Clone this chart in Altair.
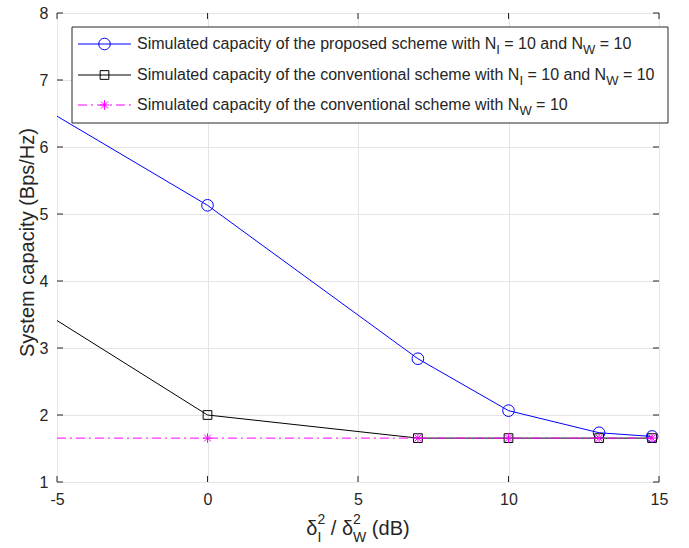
import altair as alt
import pandas as pd

# ---------------- data ----------------
x_db = [-5, 0, 6.99, 10, 13.01, 14.77]
proposed = [6.46, 5.13, 2.84, 2.065, 1.735, 1.68]
conventional = [3.41, 2.0, 1.655, 1.655, 1.655, 1.655]
conventional_nw = [1.655, 1.655, 1.655, 1.655, 1.655, 1.655]

x_ticks = [-5, 0, 5, 10, 15]
y_ticks = [1, 2, 3, 4, 5, 6, 7, 8]

series_names = [
    "proposed",
    "conventional",
    "conventional_nw",
]

# ---------------- layout / style ----------------
W, H = 602, 469
FONT = "Liberation Sans"
TXT = "#262626"
BLUE, BLACK, MAG = "#0000FF", "#000000", "#FF00FF"
STAR = "M-1,0L1,0M0,-1L0,1M-0.72,-0.72L0.72,0.72M-0.72,0.72L0.72,-0.72"

ARIAL = {
    'a': 556, 'b': 556, 'c': 500, 'd': 556, 'e': 556, 'f': 278, 'g': 556, 'h': 556,
    'i': 222, 'j': 222, 'k': 500, 'l': 222, 'm': 833, 'n': 556, 'o': 556, 'p': 556,
    'q': 556, 'r': 333, 's': 500, 't': 278, 'u': 556, 'v': 500, 'w': 722, 'x': 500,
    'y': 500, 'z': 500, 'S': 667, 'N': 722, 'I': 278, 'W': 944, 'B': 667, 'H': 722,
    ' ': 278, '=': 584, '(': 333, ')': 333, '/': 278, 'δ': 556,
}


def tw(s, fs):
    return sum(ARIAL.get(c, 556) for c in s) * fs / 1000.0


one = pd.DataFrame({"k": [0]})


def txt(s, x, y, fs, color=TXT, align="left", angle=0):
    if align == "left":
        lead = len(s) - len(s.lstrip(" "))
        x = x + tw(" " * lead, fs)
        s = s.strip(" ")
    kw = dict(text=s, font=FONT, fontSize=fs, color=color, align=align, baseline="middle")
    if angle:
        kw["angle"] = angle
    return alt.Chart(one).mark_text(**kw).encode(x=alt.value(x), y=alt.value(y))


df = pd.DataFrame({
    "x": x_db * 3,
    "y": proposed + conventional + conventional_nw,
    "s": [series_names[0]] * 6 + [series_names[1]] * 6 + [series_names[2]] * 6,
})

xs = alt.Scale(domain=[-5, 15], nice=False, zero=False)
ys = alt.Scale(domain=[1, 8], nice=False, zero=False)

base = alt.Chart(df)
X = alt.X("x:Q", scale=xs, title=None,
          axis=alt.Axis(values=x_ticks, grid=True, gridColor="#e5e5e5", domain=False,
                        ticks=False, labelFont=FONT, labelFontSize=16, labelColor=TXT,
                        labelPadding=9, labelFlush=False, labelExpr="'' + datum.value"))
Y = alt.Y("y:Q", scale=ys, title=None,
          axis=alt.Axis(values=y_ticks, grid=True, gridColor="#e5e5e5", domain=False,
                        ticks=False, labelFont=FONT, labelFontSize=16, labelColor=TXT,
                        labelPadding=9, labelFlush=False, labelExpr="'' + datum.value"))


def series(name, color, dash, shape, size):
    d = base.transform_filter(alt.datum.s == name)
    line_kw = dict(color=color, strokeWidth=1)
    if dash:
        line_kw["strokeDash"] = dash
    ln = d.mark_line(**line_kw).encode(x=X, y=Y)
    pt = d.transform_filter(alt.datum.x >= 0).mark_point(
        shape=shape, size=size, filled=False, color=color, strokeWidth=1, opacity=1
    ).encode(x=alt.X("x:Q", scale=xs), y=alt.Y("y:Q", scale=ys))
    return [ln, pt]


layers = []
layers += series("proposed", BLUE, None, "circle", 135)
layers += series("conventional", BLACK, None, "square", 76)
layers += series("conventional_nw", MAG, [9, 4, 2, 4], STAR, 90)

# inward ticks (MATLAB style box)
tx = pd.DataFrame({"v": x_ticks})
ty = pd.DataFrame({"v": y_ticks})
TC = "#262626"
layers.append(alt.Chart(tx).mark_rule(color=TC, strokeWidth=1).encode(
    x=alt.X("v:Q", scale=xs), y=alt.value(H), y2=alt.value(H - 6)))
layers.append(alt.Chart(tx).mark_rule(color=TC, strokeWidth=1).encode(
    x=alt.X("v:Q", scale=xs), y=alt.value(0), y2=alt.value(6)))
layers.append(alt.Chart(ty).mark_rule(color=TC, strokeWidth=1).encode(
    y=alt.Y("v:Q", scale=ys), x=alt.value(0), x2=alt.value(6)))
layers.append(alt.Chart(ty).mark_rule(color=TC, strokeWidth=1).encode(
    y=alt.Y("v:Q", scale=ys), x=alt.value(W - 6), x2=alt.value(W)))

# ---------------- legend ----------------
layers.append(alt.Chart(one).mark_rect(fill="white", stroke=TC, strokeWidth=1).encode(
    x=alt.value(15), x2=alt.value(611), y=alt.value(14), y2=alt.value(110)))

LFS = 16
SFS = 13
rows = [
    (31, BLUE, None, "circle", 135,
     [("Simulated capacity of the proposed scheme with N", 0), ("I", 1),
      (" = 10 and N", 0), ("W", 1), (" = 10", 0)]),
    (62, BLACK, None, "square", 76,
     [("Simulated capacity of the conventional scheme with N", 0), ("I", 1),
      (" = 10 and N", 0), ("W", 1), (" = 10", 0)]),
    (92, MAG, [9, 4, 2, 4], STAR, 90,
     [("Simulated capacity of the conventional scheme with N", 0), ("W", 1),
      (" = 10", 0)]),
]
for ry, col, dash, shape, size, segs in rows:
    rk = dict(color=col, strokeWidth=1)
    if dash:
        rk["strokeDash"] = dash
    layers.append(alt.Chart(one).mark_rule(**rk).encode(
        x=alt.value(21), x2=alt.value(74), y=alt.value(ry)))
    layers.append(alt.Chart(one).mark_point(shape=shape, size=size, filled=False, color=col,
                                            strokeWidth=1, opacity=1).encode(
        x=alt.value(47.5), y=alt.value(ry)))
    cx = 80
    for s, sub in segs:
        if sub:
            layers.append(txt(s, cx, ry + 6, SFS))
            cx += tw(s, SFS)
        else:
            layers.append(txt(s, cx, ry, LFS))
            cx += tw(s, LFS)

# ---------------- axis titles ----------------
TFS = 20
SS = 14
parts = [("δ", 0), (("2", "I"), 1), (" / δ", 0), (("2", "W"), 1), (" (dB)", 0)]
total = 0
for p, k in parts:
    total += max(tw(p[0], SS), tw(p[1], SS)) if k else tw(p, TFS)
cx = W / 2 - total / 2
ty0 = 516
for p, k in parts:
    if k:
        layers.append(txt(p[0], cx, ty0 - 9, SS))
        layers.append(txt(p[1], cx, ty0 + 9, SS))
        cx += max(tw(p[0], SS), tw(p[1], SS))
    else:
        layers.append(txt(p, cx, ty0, TFS))
        cx += tw(p, TFS)

layers.append(txt("System capacity (Bps/Hz)", -29, H / 2 - 5, TFS, align="center", angle=270))

chart = alt.layer(*layers).properties(
    width=W, height=H,
    autosize=alt.AutoSizeParams(type="none"),
    padding={"left": 57, "top": 13, "right": 30, "bottom": 66},
).configure_view(stroke="#262626", strokeWidth=1).configure(background="white")

chart.save("out.html", embed_options={"renderer": "svg", "actions": False})
